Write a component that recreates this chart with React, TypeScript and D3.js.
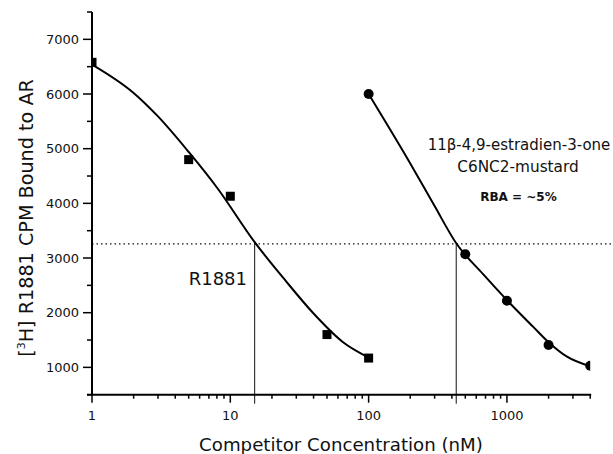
import * as d3 from "d3";

// R1881 (squares) measured points
const r1881X = [1, 5, 10, 50, 100];
const r1881Y = [6580, 4800, 4130, 1600, 1170];
// fitted curve for R1881
const r1881CurveX = [1, 2, 3, 5, 8, 15, 25, 40, 65, 100];
const r1881CurveY = [6540, 6020, 5590, 4940, 4290, 3290, 2590, 1985, 1465, 1180];

// mustard compound (circles)
const mustardX = [100, 500, 1000, 2000, 4000];
const mustardY = [6000, 3070, 2220, 1410, 1030];
const mustardCurveX = [100, 200, 300, 430, 675, 1000, 1550, 2000, 2700, 4000];
const mustardCurveY = [6000, 4730, 3950, 3270, 2700, 2230, 1740, 1460, 1200, 1020];

const halfMax = 3260;
const ic50 = [15, 430];

const yMajorTicks = [1000, 2000, 3000, 4000, 5000, 6000, 7000];
const yMinorTicks = [500, 1500, 2500, 3500, 4500, 5500, 6500, 7500];
const xMajorTicks = [1, 10, 100, 1000];

const FONT = "'DejaVu Sans', 'Liberation Sans', Arial, sans-serif";

export default function App() {
  const width = 613;
  const height = 454;
  const left = 92;
  const right = 590.2;
  const top = 12;
  const bottom = 394.7;

  const x = d3.scaleLog().domain([1, 4000]).range([left, right]);
  const y = d3.scaleLinear().domain([500, 7500]).range([bottom, top]);

  const xMinor = x.ticks().filter((t) => !xMajorTicks.includes(t) && t <= 4000);

  const line = d3
    .line<[number, number]>()
    .x((d) => x(d[0]))
    .y((d) => y(d[1]))
    .curve(d3.curveMonotoneX);

  const leftCurve = r1881CurveX.map((v, i) => [v, r1881CurveY[i]] as [number, number]);
  const rightCurve = mustardCurveX.map((v, i) => [v, mustardCurveY[i]] as [number, number]);

  const tickLabel = { fontFamily: FONT, fontSize: 13, fill: "#111" };

  return (
    <svg
      width={width}
      height={height}
      style={{ position: "absolute", left: 0, top: 0, background: "#fff" }}
    >
      <defs>
        <clipPath id="plot">
          <rect x={left} y={top} width={right - left} height={bottom - top} />
        </clipPath>
      </defs>

      {/* half-maximum dotted line */}
      <line
        x1={left}
        x2={width}
        y1={y(halfMax)}
        y2={y(halfMax)}
        stroke="#111"
        strokeWidth={1.2}
        strokeDasharray="1.5,3"
      />
      {/* IC50 drop lines */}
      {ic50.map((v) => (
        <line
          key={v}
          x1={x(v)}
          x2={x(v)}
          y1={y(halfMax)}
          y2={bottom + 9}
          stroke="#111"
          strokeWidth={1}
        />
      ))}

      <g clipPath="url(#plot)">
        <path d={line(leftCurve) || ""} fill="none" stroke="#000" strokeWidth={2} />
        <path d={line(rightCurve) || ""} fill="none" stroke="#000" strokeWidth={2} />
        {r1881X.map((v, i) => (
          <rect
            key={"s" + i}
            x={x(v) - 4.5}
            y={y(r1881Y[i]) - 4.5}
            width={9}
            height={9}
            fill="#000"
          />
        ))}
        {mustardX.map((v, i) => (
          <circle key={"c" + i} cx={x(v)} cy={y(mustardY[i])} r={5} fill="#000" />
        ))}
      </g>

      {/* y axis */}
      <line x1={left} x2={left} y1={top} y2={bottom} stroke="#000" strokeWidth={2} />
      {yMajorTicks.map((t) => (
        <g key={"ym" + t}>
          <line x1={left - 9} x2={left} y1={y(t)} y2={y(t)} stroke="#000" strokeWidth={1.5} />
          <text x={left - 13} y={y(t)} dy="0.36em" textAnchor="end" style={tickLabel}>
            {t}
          </text>
        </g>
      ))}
      {yMinorTicks.map((t) => (
        <line key={"yn" + t} x1={left - 5} x2={left} y1={y(t)} y2={y(t)} stroke="#000" strokeWidth={1.5} />
      ))}

      {/* x axis */}
      <line x1={left - 5} x2={right + 1} y1={bottom} y2={bottom} stroke="#000" strokeWidth={2} />
      {xMajorTicks.map((t) => (
        <g key={"xm" + t}>
          <line x1={x(t)} x2={x(t)} y1={bottom} y2={bottom + 8} stroke="#000" strokeWidth={1.5} />
          <text x={x(t)} y={420} textAnchor="middle" style={tickLabel}>
            {t}
          </text>
        </g>
      ))}
      {xMinor.map((t) => (
        <line key={"xn" + t} x1={x(t)} x2={x(t)} y1={bottom} y2={bottom + 4} stroke="#000" strokeWidth={1.5} />
      ))}

      {/* axis titles */}
      <text
        x={(199 + 483) / 2}
        y={451}
        textAnchor="middle"
        style={{ fontFamily: FONT, fontSize: 18.2, fill: "#111" }}
      >
        Competitor Concentration (nM)
      </text>
      <text
        transform="translate(33,218) rotate(-90)"
        textAnchor="middle"
        style={{ fontFamily: FONT, fontSize: 19.2, fill: "#111" }}
      >
        [<tspan fontSize={11} dy={-8}>3</tspan>
        <tspan dy={8}>H] R1881 CPM Bound to AR</tspan>
      </text>

      {/* annotations */}
      <text x={247} y={285} textAnchor="end" style={{ fontFamily: FONT, fontSize: 18, fill: "#111" }}>
        R1881
      </text>
      <text x={519} y={150} textAnchor="middle" style={{ fontFamily: FONT, fontSize: 15, fill: "#111" }}>
        11β-4,9-estradien-3-one
      </text>
      <text x={518} y={172} textAnchor="middle" style={{ fontFamily: FONT, fontSize: 15.3, fill: "#111" }}>
        C6NC2-mustard
      </text>
      <text
        x={518.5}
        y={201}
        textAnchor="middle"
        style={{ fontFamily: FONT, fontSize: 12, fontWeight: "bold", fill: "#111" }}
      >
        RBA = ~5%
      </text>
    </svg>
  );
}
